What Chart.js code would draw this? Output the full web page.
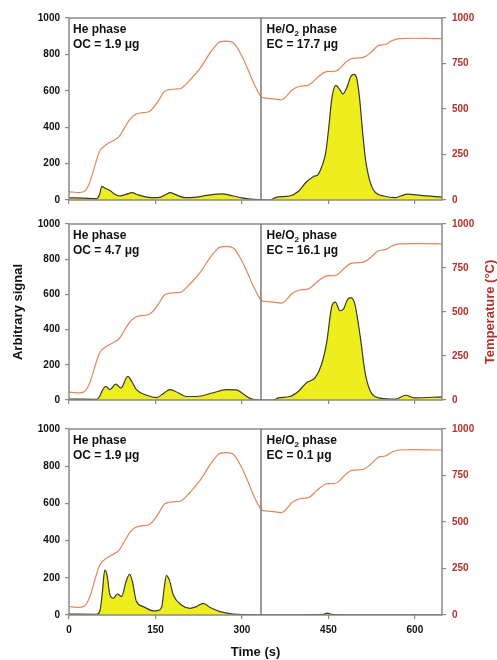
<!DOCTYPE html>
<html><head><meta charset="utf-8">
<script src="https://cdn.jsdelivr.net/npm/chart.js@4/dist/chart.umd.min.js"></script>
<style>
html,body{margin:0;padding:0;background:#fff;}
#wrap{position:relative;width:497px;height:660px;overflow:hidden;}
.panel{position:absolute;left:0;width:497px;}
</style></head><body>
<div id="wrap">
<div class="panel" style="top:0;height:212px"><canvas id="c1"></canvas></div>
<div class="panel" style="top:212px;height:200px"><canvas id="c2"></canvas></div>
<div class="panel" style="top:412px;height:248px"><canvas id="c3"></canvas></div>
</div>
<script>
// ---- data ----
const timeTicks = [0, 150, 300, 450, 600];
const signalTicks = [0, 200, 400, 600, 800, 1000];
const tempTicks = [0, 250, 500, 750, 1000];
const phaseSplit = 333;
const timeMax = 647;

const phase1Label = 'He phase';
const ocLabels = ['OC = 1.9 μg', 'OC = 4.7 μg', 'OC = 1.9 μg'];
const ecLabels = ['EC = 17.7 μg', 'EC = 16.1 μg', 'EC = 0.1 μg'];

const tempTime = [0,25,35,45,54,65,77,86,96,106,115,123,140,155,165,172,185,195,210,227,245,255,262,282,290,300,310,320,333,340,355,370,380,387,400,416,430,445,458,466,478,489,500,512,525,536,543,550,560,573,647];
const tempValues = [45,45,90,190,273,305,327,345,395,445,470,478,488,545,595,605,610,614,660,722,810,850,869,869,845,790,720,645,568,560,556,552,580,605,625,632,670,704,706,713,750,776,780,785,815,847,852,856,875,887,887];

const time1 = [0,25,48,53,57,62,71,80,88,100,109,120,135,155,168,175,187,201,216,239,265,285,300,315,333,349,360,383,398,412,425,432,438,445,450,456,463,470,475,482,489,494,499,504,509,514,519,525,532,546,566,575,587,610,647];
const signal1 = [12,10,8,30,75,66,52,30,22,32,40,28,16,13,30,40,27,13,14,25,34,22,12,5,2,0,16,22,48,100,130,140,180,255,380,560,630,605,582,618,680,690,670,560,383,230,140,75,40,22,13,22,32,25,16];

const time2 = [0,48,53,58,64,71,81,90,102,109,117,135,152,165,175,184,204,221,250,273,290,300,314,333,354,363,383,398,412,427,438,447,456,462,470,476,483,489,496,505,514,526,540,566,584,599,647];
const signal2 = [5,4,20,55,77,59,90,68,134,104,59,27,14,40,59,50,20,20,41,59,58,40,9,0,0,12,20,50,98,127,202,328,534,556,507,516,570,582,543,364,149,32,11,5,27,12,18];

const time3 = [0,48,54,58,62,66,71,77,84,91,99,105,110,117,129,146,155,161,165,169,174,181,195,210,221,233,245,262,285,308,333,400,440,448,456,480,647];
const signal3 = [5,4,27,126,242,215,108,90,113,99,180,219,180,72,45,22,25,45,144,212,189,108,54,36,45,63,40,18,5,2,1,1,3,10,3,1,1];

// ---- styling ----
const FONT = '"Liberation Sans", Arial, sans-serif';
const AXIS_GRAY = '#8a8a8a';
const TEMP_RED = '#b5302a';

const decor = {
  id: 'decor',
  afterDatasetsDraw(chart, args, o) {
    const {ctx, chartArea: a, scales: {x}} = chart;
    ctx.save();
    ctx.strokeStyle = AXIS_GRAY; ctx.lineWidth = 1.5;
    ctx.strokeRect(a.left, a.top, a.right - a.left, a.bottom - a.top);
    const vx = x.getPixelForValue(phaseSplit);
    ctx.strokeStyle = '#7a7a7a'; ctx.lineWidth = 1.5;
    ctx.beginPath(); ctx.moveTo(vx, a.top); ctx.lineTo(vx, a.bottom); ctx.stroke();
    ctx.fillStyle = '#111';
    ctx.textAlign = 'left'; ctx.textBaseline = 'alphabetic';
    ctx.font = 'bold 12px ' + FONT;
    ctx.fillText(phase1Label, a.left + 4, a.top + 15);
    ctx.fillText(o.oc, a.left + 4, a.top + 29.5);
    let tx = vx + 5.5; const ty = a.top + 15;
    ctx.fillText('He/O', tx, ty); tx += ctx.measureText('He/O').width;
    ctx.font = 'bold 8px ' + FONT;
    ctx.fillText('2', tx, ty + 3); tx += ctx.measureText('2').width;
    ctx.font = 'bold 12px ' + FONT;
    ctx.fillText(' phase', tx, ty);
    ctx.fillText(o.ec, vx + 5.5, a.top + 29.5);
    if (o.tempTitle) {
      ctx.save();
      ctx.translate(490, (a.top + a.bottom) / 2);
      ctx.rotate(-Math.PI / 2);
      ctx.textAlign = 'center'; ctx.textBaseline = 'middle';
      ctx.fillStyle = TEMP_RED;
      ctx.font = 'bold 13px ' + FONT;
      ctx.fillText(o.tempTitle, 0, 0);
      ctx.restore();
    }
    ctx.restore();
  }
};

const plainTick = v => String(v);

function makeChart(id, times, values, idx, cfg) {
  const sig = times.map((t, i) => ({x: t, y: values[i]}));
  const tmp = tempTime.map((t, i) => ({x: t, y: tempValues[i]}));
  return new Chart(document.getElementById(id), {
    type: 'line',
    data: {
      datasets: [
        {data: tmp, yAxisID: 'y1', borderColor: '#e2865c', borderWidth: 1.2, pointRadius: 0, fill: false, tension: 0.4},
        {data: sig, yAxisID: 'y', borderColor: '#3a3a26', borderWidth: 1.2, backgroundColor: '#eeee1e', pointRadius: 0, fill: 'origin', cubicInterpolationMode: 'monotone'}
      ]
    },
    options: {
      responsive: true, maintainAspectRatio: false, animation: false,
      layout: {padding: {top: cfg.padTop, left: 0, right: 0, bottom: 0}},
      plugins: {legend: {display: false}, tooltip: {enabled: false},
        decor: {oc: ocLabels[idx], ec: ecLabels[idx], tempTitle: cfg.tempTitle || null}},
      scales: {
        x: {
          type: 'linear', min: 0, max: timeMax,
          afterBuildTicks: s => { s.ticks = timeTicks.map(v => ({value: v})); },
          afterFit: s => { s.height = cfg.xHeight; },
          border: {display: false},
          grid: {display: true, drawOnChartArea: false, drawTicks: true, tickLength: 4, color: AXIS_GRAY, lineWidth: 1.2},
          ticks: {display: cfg.showX, callback: plainTick, color: '#111', font: {family: FONT, size: 10, weight: 'bold'}, padding: 5, maxRotation: 0},
          title: {display: cfg.showX, text: 'Time (s)', color: '#111', font: {family: FONT, size: 13, weight: 'bold'}, padding: {top: 0, bottom: 0}}
        },
        y: {
          position: 'left', min: 0, max: 1000,
          afterBuildTicks: s => { s.ticks = signalTicks.map(v => ({value: v})); },
          afterFit: s => { s.width = 69; },
          border: {display: false},
          grid: {display: true, drawOnChartArea: false, drawTicks: true, tickLength: 4, color: AXIS_GRAY, lineWidth: 1.2},
          ticks: {callback: plainTick, color: '#111', font: {family: FONT, size: 10, weight: 'bold'}, padding: 5},
          title: {display: !!cfg.yTitle, text: 'Arbitrary signal', color: '#111', font: {family: FONT, size: 13, weight: 'bold'}, padding: {top: 11, bottom: 0}}
        },
        y1: {
          position: 'right', min: 0, max: 1000,
          afterBuildTicks: s => { s.ticks = tempTicks.map(v => ({value: v})); },
          afterFit: s => { s.width = 55; },
          border: {display: false},
          grid: {display: true, drawOnChartArea: false, drawTicks: true, tickLength: 4, color: AXIS_GRAY, lineWidth: 1.2},
          ticks: {callback: plainTick, color: TEMP_RED, font: {family: FONT, size: 10, weight: 'bold'}, padding: 6}
        }
      }
    },
    plugins: [decor]
  });
}

makeChart('c1', time1, signal1, 0, {padTop: 18, xHeight: 8, showX: false});
makeChart('c2', time2, signal2, 1, {padTop: 8, xHeight: 6, showX: false, yTitle: true, tempTitle: 'Temperature (°C)'});
makeChart('c3', time3, signal3, 2, {padTop: 17, xHeight: 45, showX: true});
</script>
</body></html>
